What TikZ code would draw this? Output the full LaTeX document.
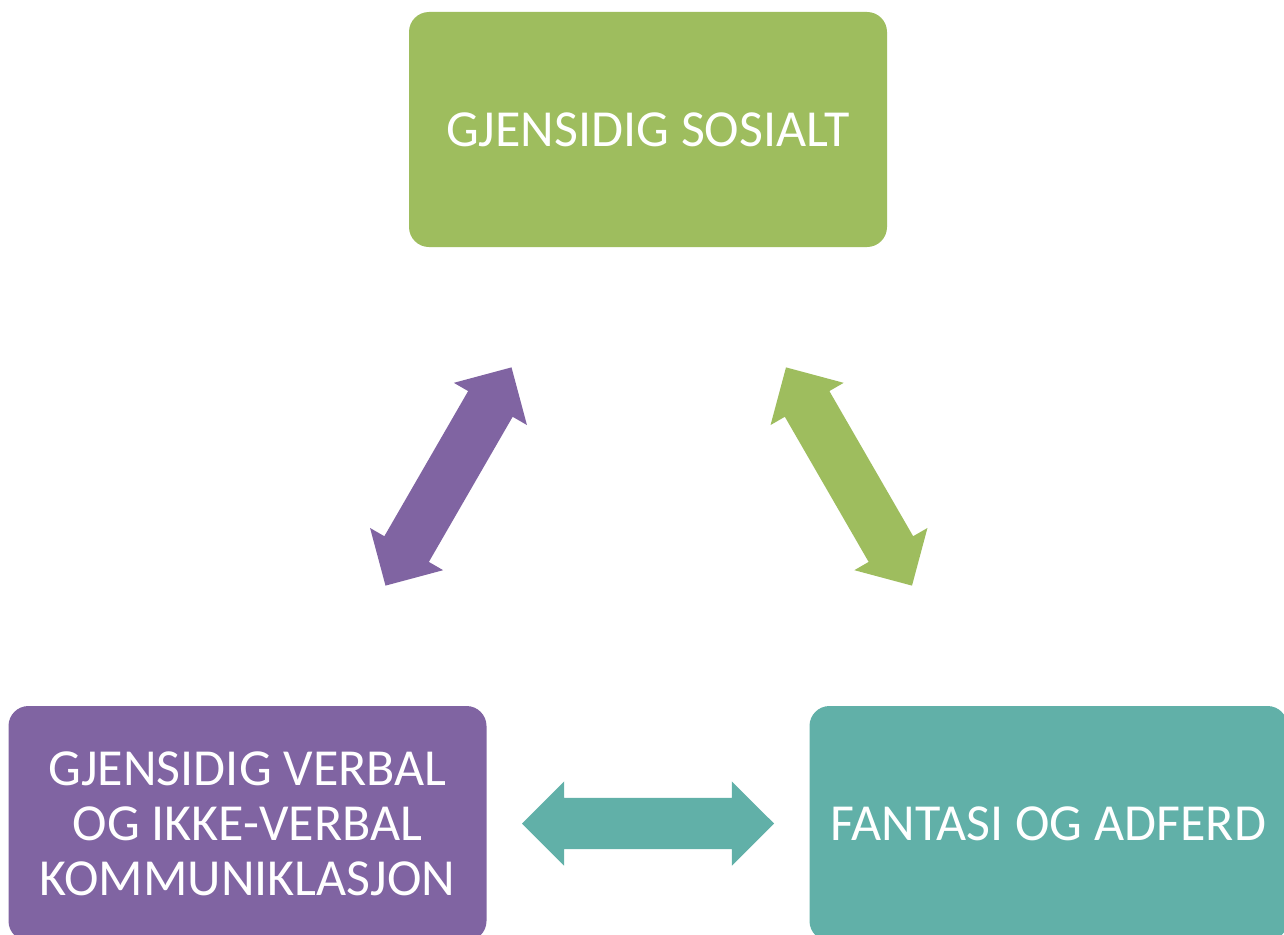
\documentclass[tikz,border=0pt]{standalone}
\usepackage{fontspec}
\setmainfont{Carlito}
\usetikzlibrary{shapes.arrows}
\definecolor{cgreen}{RGB}{158,189,94}
\definecolor{cpurple}{RGB}{128,100,162}
\definecolor{cteal}{RGB}{97,176,168}
\tikzset{
  box/.style={rectangle, rounded corners=20pt, minimum width=478pt, minimum height=235pt,
    inner sep=0pt, text=white, align=center, font=\fontsize{52}{55}\selectfont},
  dblarrow/.style={double arrow, double arrow head extend=16.5pt, inner sep=25.5pt,
    minimum height=252pt, double arrow tip angle=90, draw=none}
}
\begin{document}
\begin{tikzpicture}[x=1pt,y=-1pt]
\useasboundingbox (0,0) rectangle (1284,934);
\clip (0,0) rectangle (1284,934);
\fill[white] (0,0) rectangle (1284,934);
\node[box, fill=cgreen] (top) at (648,129.5) {GJENSIDIG SOSIALT};
\node[box, fill=cpurple] (left) at (247.5,823.5) {GJENSIDIG VERBAL\\OG IKKE-VERBAL\\KOMMUNIKLASJON};
\node[box, fill=cteal] (right) at (1048.5,823.5) {FANTASI OG ADFERD};
\node[dblarrow, fill=cpurple, rotate=60] (a1) at (448.5,476.5) {};
\node[dblarrow, fill=cgreen, rotate=-60] (a2) at (849,476.5) {};
\node[dblarrow, fill=cteal] (a3) at (648,823.5) {};
\end{tikzpicture}
\end{document}
